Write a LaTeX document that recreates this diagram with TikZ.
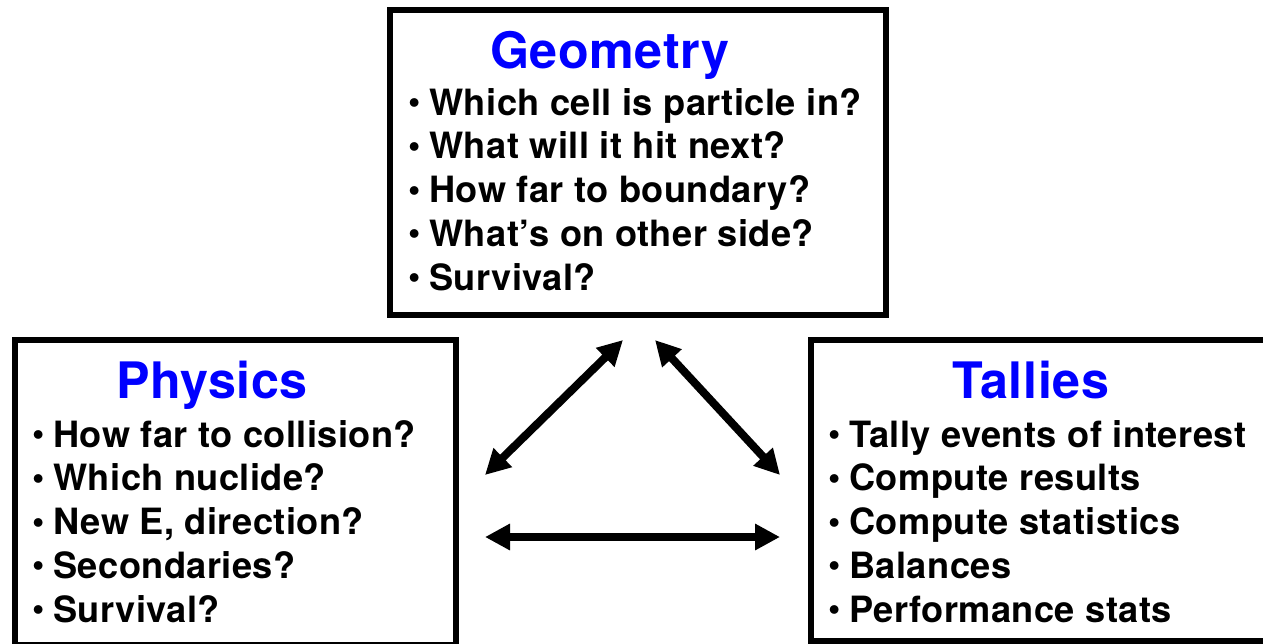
\documentclass[tikz,border=0pt]{standalone}
\usepackage{fontspec}
\setmainfont{TeX Gyre Heros}[LetterSpace=1.2]
\usetikzlibrary{arrows.meta,positioning}
\definecolor{TitleBlue}{RGB}{0,0,255}
\newcommand{\bul}{\makebox[0.42cm][l]{\fontsize{20}{20}\selectfont\raisebox{0.03cm}{•}}}

\begin{document}
\begin{tikzpicture}[
    panel/.style={draw, line width=0.12cm, inner sep=0pt},
    headline/.style={anchor=base, inner sep=0pt, text=TitleBlue, font=\fontsize{28.6}{28.6}\selectfont\bfseries},
    item/.style={anchor=base west, inner sep=0pt, font=\fontsize{20.6}{20.6}\selectfont\bfseries},
    link/.style={line width=0.16cm, {Triangle[length=0.5cm,width=0.5cm]}-{Triangle[length=0.5cm,width=0.5cm]}}
  ]
  \useasboundingbox (0,0) rectangle (25.26,12.86);
  \clip (0,0) rectangle (25.26,12.86);

  % the three boxes
  \node[panel, minimum width=9.92cm, minimum height=6.10cm] (geom) at (12.76,9.61) {};
  \node[panel, minimum width=8.83cm, minimum height=6.10cm] (phys) at (4.705,3.01) {};
  \node[panel, minimum width=9.18cm, minimum height=6.01cm] (tally) at (20.81,3.055) {};

  % titles
  \node[headline] (geom-title) at (12.20,11.50) {Geometry};
  \node[headline] (phys-title) at (4.24,4.90) {Physics};
  \node[headline] (tally-title) at (20.62,4.90) {Tallies};

  % bullet lists
  \foreach \txt [count=\i] in {Which cell is particle in?, What will it hit next?, How far to boundary?, What’s on other side?, Survival?}
    \node[item] (geom-\i) at ({8.16},{10.56-0.875*(\i-1)}) {\bul\txt};
  \foreach \txt [count=\i] in {How far to collision?, Which nuclide?, {New E, direction?}, Secondaries?, Survival?}
    \node[item] (phys-\i) at ({0.64},{3.92-0.875*(\i-1)}) {\bul\txt};
  \foreach \txt [count=\i] in {Tally events of interest, Compute results, Compute statistics, Balances, Performance stats}
    \node[item] (tally-\i) at ({16.56},{3.92-0.875*(\i-1)}) {\bul\txt};

  % arrow ends
  \coordinate (geom-l) at (12.46,6.06);
  \coordinate (geom-r) at (13.10,6.06);
  \coordinate (phys-r) at (9.70,3.36);
  \coordinate (tally-l) at (15.60,3.36);
  \coordinate (phys-b) at (9.70,2.12);
  \coordinate (tally-b) at (15.60,2.12);

  \draw[link] (geom-l) -- (phys-r);
  \draw[link] (geom-r) -- (tally-l);
  \draw[link] (phys-b) -- (tally-b);
\end{tikzpicture}
\end{document}
